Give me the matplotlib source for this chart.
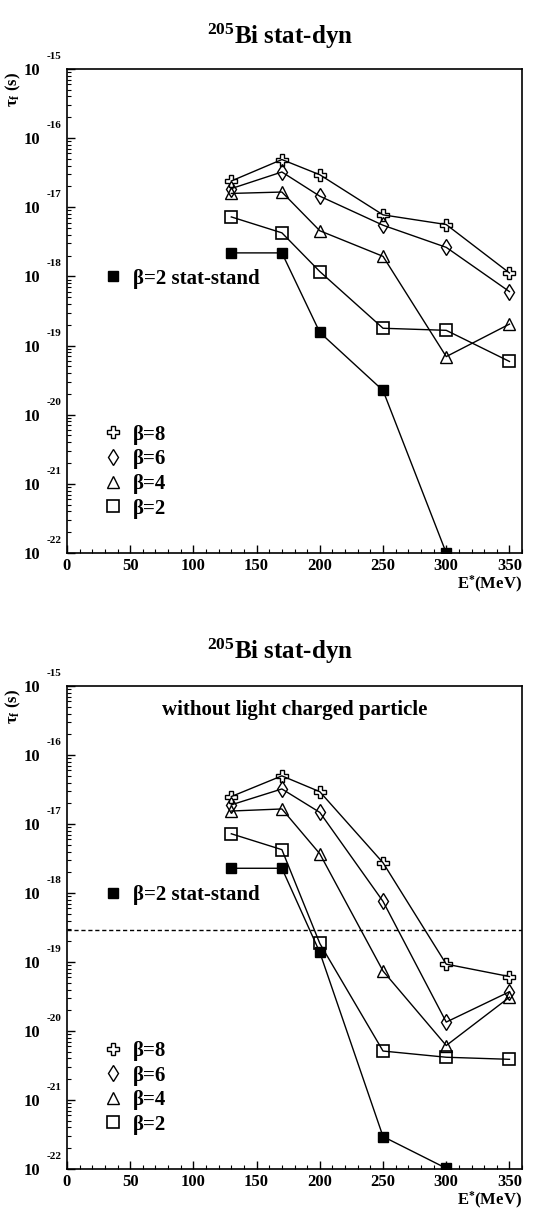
import numpy as np
import matplotlib.pyplot as plt
from matplotlib.lines import Line2D

plt.rcParams['font.family'] = ['Liberation Serif', 'DejaVu Serif']
plt.rcParams['font.weight'] = 'bold'
plt.rcParams['mathtext.fontset'] = 'custom'
plt.rcParams['mathtext.rm'] = 'Liberation Serif:bold'
plt.rcParams['mathtext.bf'] = 'Liberation Serif:bold'
plt.rcParams['mathtext.it'] = 'Liberation Serif:bold'

# excitation energies (MeV)
energy = [130, 170, 200, 250, 300, 350]
energy_ss = [130, 170, 200, 250, 300]

# log10 of fission time, top panel (stat-dyn)
top_b8 = [-16.62, -16.31, -16.53, -17.11, -17.25, -17.95]
top_b6 = [-16.73, -16.49, -16.84, -17.26, -17.58, -18.22]
top_b4 = [-16.80, -16.78, -17.34, -17.71, -19.16, -18.69]
top_b2 = [-17.14, -17.37, -17.93, -18.75, -18.78, -19.23]
top_ss = [-17.66, -17.66, -18.81, -19.65, -22.0]

# bottom panel (without light charged particle)
bot_b8 = [-16.60, -16.30, -16.53, -17.56, -19.03, -19.21]
bot_b6 = [-16.72, -16.49, -16.83, -18.12, -19.87, -19.43]
bot_b4 = [-16.81, -16.78, -17.43, -19.13, -20.21, -19.51]
bot_b2 = [-17.14, -17.37, -18.73, -20.29, -20.38, -20.41]
bot_ss = [-17.64, -17.64, -18.86, -21.53, -21.99]
dashed_level = 2.9e-19

styles = {
    'b8': dict(marker='P', ms=9, mfc='none', mec='black', mew=1.0),
    'b6': dict(marker='d', ms=8, mfc='none', mec='black', mew=1.0),
    'b4': dict(marker='^', ms=9, mfc='none', mec='black', mew=1.0),
    'b2': dict(marker='s', ms=8, mfc='none', mec='black', mew=1.2),
    'ss': dict(marker='s', ms=7, mfc='black', mec='black', mew=1.0),
}


def draw_panel(ax, b8, b6, b4, b2, ss):
    for key, vals in [('b8', b8), ('b6', b6), ('b4', b4), ('b2', b2)]:
        ax.plot(energy, 10.0**np.array(vals), color='black', lw=1.0, **styles[key])
    ax.plot(energy_ss, 10.0**np.array(ss), color='black', lw=1.0, **styles['ss'])
    ax.set_yscale('log')
    ax.set_ylim(1e-22, 1e-15)
    ax.set_xlim(0, 360)
    ax.set_xticks(np.arange(0, 351, 50))
    ax.set_xticks(np.arange(0, 361, 10), minor=True)
    ax.set_yticks([10.0**k for k in range(-22, -14)])
    ax.set_yticklabels(['10'] * 8)
    ax.tick_params(which='both', direction='in', right=False, top=False)
    ax.tick_params(axis='y', which='major', length=6, width=1.0, pad=19, labelsize=12)
    ax.tick_params(axis='y', which='minor', length=3, width=0.8)
    ax.tick_params(axis='x', which='major', length=6, width=1.0, pad=3.5, labelsize=12)
    ax.tick_params(axis='x', which='minor', length=3, width=0.8)
    for s in ax.spines.values():
        s.set_linewidth(1.2)
    for k in range(-22, -14):
        ax.annotate(str(k), xy=(0, 10.0**k), xycoords=('axes fraction', 'data'),
                    xytext=(-14.5, 9.0), textcoords='offset points',
                    ha='left', va='center', fontsize=8, fontweight='bold')
    ax.text(-0.117, 0.995, r'$\mathrm{\tau_f}$ (s)', transform=ax.transAxes,
            rotation=90, ha='center', va='top', fontsize=12)
    ax.text(1.0, -0.066, r'E$^{*}$(MeV)', transform=ax.transAxes,
            ha='right', va='center', fontsize=12)

    h_ss = [Line2D([], [], linestyle='none', color='black', **styles['ss'])]
    leg1 = ax.legend(h_ss, [r'β=2 stat-stand'], loc='center left',
                     bbox_to_anchor=(0.037, 0.567), frameon=False,
                     handlelength=1.0, handletextpad=0.45, fontsize=15)
    ax.add_artist(leg1)
    h_b = [Line2D([], [], linestyle='none', color='black', **styles[k])
           for k in ['b8', 'b6', 'b4', 'b2']]
    ax.legend(h_b, ['β=8', 'β=6', 'β=4', 'β=2'], loc='center left',
              bbox_to_anchor=(0.037, 0.168), frameon=False,
              handlelength=1.0, handletextpad=0.45, labelspacing=0.22,
              fontsize=15)


fig = plt.figure(figsize=(5.55, 12.10), dpi=100)
ax1 = fig.add_axes([0.1207, 0.543, 0.820, 0.400])
ax2 = fig.add_axes([0.1207, 0.0339, 0.820, 0.399])

draw_panel(ax1, top_b8, top_b6, top_b4, top_b2, top_ss)
draw_panel(ax2, bot_b8, bot_b6, bot_b4, bot_b2, bot_ss)
ax2.axhline(dashed_level, color='black', lw=1.0, ls=(0, (3, 2)))
ax2.text(0.5, 0.95, 'without light charged particle', transform=ax2.transAxes,
         ha='center', va='center', fontsize=15)

fig.text(0.505, 1 - 36 / 1210, r'$^{205}$Bi stat-dyn', ha='center', va='center', fontsize=18)
fig.text(0.505, 1 - 651 / 1210, r'$^{205}$Bi stat-dyn', ha='center', va='center', fontsize=18)

fig.savefig('out.png', dpi=100)
